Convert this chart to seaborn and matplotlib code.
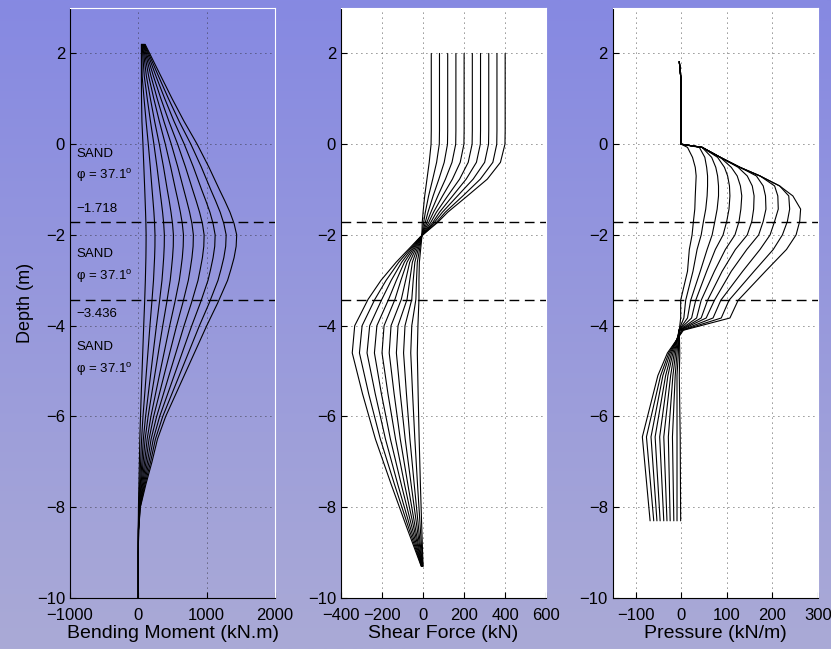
import numpy as np
import pandas as pd
import matplotlib
matplotlib.use("Agg")
import matplotlib.pyplot as plt
import seaborn as sns

# soil layer boundaries (m)
layer_bounds = [-1.718, -3.436]
layer_names = ["SAND", "SAND", "SAND"]
layer_phi = [37.1, 37.1, 37.1]

# Bending moment (kN.m), one list per load step, on bm_depth
bm_depth = [2.2, 1.5, 1.0, 0.5, 0.0, -0.5, -1.0, -1.25, -1.5, -1.75, -2.0, -2.25, -2.5, -2.75,
            -3.0, -3.5, -4.0, -4.5, -5.0, -5.5, -6.0, -6.5, -7.0, -7.5, -8.0, -8.5, -9.0, -10.0]
bm_curves = [
    [45, 45, 47, 53, 68, 81, 94, 100, 106, 111, 114, 113, 111, 107, 103, 92, 79, 67, 55, 43, 32, 22, 16, 9, 2, 0, 0, 0],
    [50, 56, 84, 114, 146, 175, 201, 215, 228, 238, 244, 243, 238, 230, 222, 197, 170, 145, 119, 94, 68, 48, 34, 19, 5, 1, 0, 0],
    [55, 87, 131, 178, 228, 273, 314, 335, 355, 371, 381, 379, 371, 359, 346, 307, 265, 225, 186, 146, 106, 74, 53, 29, 8, 1, 0, 0],
    [62, 118, 177, 239, 307, 368, 423, 452, 478, 500, 513, 511, 500, 484, 466, 414, 357, 303, 250, 196, 143, 100, 71, 39, 11, 2, 0, 0],
    [68, 151, 227, 308, 395, 473, 544, 581, 615, 643, 660, 656, 643, 622, 599, 532, 459, 390, 321, 252, 184, 129, 92, 50, 14, 2, 0, 0],
    [75, 185, 277, 375, 482, 577, 664, 708, 750, 784, 805, 801, 784, 759, 731, 650, 560, 476, 392, 308, 224, 157, 112, 62, 17, 3, 0, 0],
    [80, 221, 331, 448, 575, 689, 793, 846, 896, 937, 962, 957, 937, 906, 873, 776, 669, 569, 468, 368, 268, 187, 134, 74, 20, 3, 0, 0],
    [87, 258, 387, 523, 672, 804, 925, 988, 1047, 1093, 1123, 1117, 1093, 1058, 1019, 906, 781, 664, 547, 430, 312, 219, 156, 86, 23, 4, 0, 0],
    [93, 295, 442, 598, 768, 920, 1058, 1130, 1197, 1250, 1284, 1277, 1250, 1210, 1165, 1036, 893, 759, 625, 491, 357, 250, 179, 98, 27, 4, 0, 0],
    [100, 330, 495, 670, 860, 1030, 1185, 1265, 1340, 1400, 1438, 1430, 1400, 1355, 1305, 1160, 1000, 850, 700, 550, 400, 280, 200, 110, 30, 5, 0, 0],
]

# Shear force (kN)
sf_depth = [2.0, 0.3, 0.0, -0.4, -0.77, -1.14, -1.5, -1.72, -2.05, -2.6, -3.0, -3.42,
            -4.0, -4.6, -5.5, -6.5, -7.5, -8.5, -9.3]
sf_curves = [
    [40, 40, 39, 30, 19, 8, 0, -4, -6, -18, -20, -20, -25, -28, -24, -19, -13, -6, 0],
    [80, 80, 79, 66, 47, 27, 11, 3, -7, -28, -32, -35, -55, -60, -51, -40, -27, -13, -1],
    [120, 120, 119, 103, 77, 49, 24, 11, -8, -40, -48, -55, -88, -95, -81, -64, -43, -21, -2],
    [160, 160, 159, 141, 109, 72, 38, 19, -9, -52, -65, -78, -122, -130, -111, -87, -58, -28, -3],
    [200, 200, 199, 181, 143, 95, 51, 28, -10, -65, -85, -106, -156, -165, -141, -111, -74, -36, -4],
    [240, 240, 239, 220, 178, 120, 65, 38, -11, -78, -108, -137, -190, -200, -171, -134, -90, -43, -5],
    [280, 280, 279, 260, 210, 144, 80, 48, -12, -91, -130, -168, -225, -237, -203, -159, -106, -51, -6],
    [320, 320, 319, 300, 244, 168, 94, 56, -13, -104, -155, -201, -260, -273, -233, -183, -123, -59, -7],
    [360, 360, 359, 340, 279, 194, 108, 66, -14, -118, -180, -235, -297, -310, -265, -208, -139, -67, -8],
    [400, 400, 399, 377, 313, 216, 120, 72, -15, -131, -205, -268, -333, -345, -295, -232, -155, -75, -9],
]

# Soil pressure (kN/m)
pr_depth = [1.82, 1.4, 0.0, -0.07, -0.29, -0.51, -0.70, -0.92, -1.14, -1.43, -1.7, -2.0,
            -2.32, -2.8, -3.44, -3.83, -4.1, -4.6, -5.1, -6.45, -8.3]
pr_curves = [
    [-4, 0, 0, 14, 25, 31, 33, 32, 31, 30, 27, 24, 18, 14, -1, -1, -4, -3, -4, -2, -1],
    [-4, 0, 0, 40, 52, 56, 58, 58, 57, 54, 49, 44, 35, 26, 10, 6, -5, -6, -9, -9, -9],
    [-4, 0, 0, 46, 67, 76, 80, 82, 82, 79, 74, 68, 57, 42, 21, 14, -5, -9, -13, -19, -16],
    [-4, 0, 0, 46, 80, 95, 102, 106, 107, 105, 100, 92, 75, 56, 32, 23, -5, -12, -18, -28, -24],
    [-4, 0, 0, 46, 86, 110, 123, 130, 133, 131, 127, 118, 97, 73, 44, 34, -4, -15, -23, -38, -31],
    [-4, 0, 0, 46, 86, 125, 145, 156, 160, 159, 155, 145, 119, 90, 58, 44, -3, -18, -29, -47, -38],
    [-4, 0, 0, 46, 86, 129, 165, 180, 185, 186, 180, 170, 144, 110, 73, 55, -2, -21, -34, -57, -46],
    [-4, 0, 0, 46, 86, 129, 173, 205, 212, 213, 205, 195, 173, 135, 87, 70, 1, -24, -40, -66, -53],
    [-4, 0, 0, 46, 86, 129, 173, 216, 236, 238, 233, 222, 202, 160, 105, 88, 3, -27, -45, -76, -60],
    [-4, 0, 0, 46, 86, 129, 173, 216, 245, 262, 260, 252, 231, 185, 125, 107, 5, -30, -51, -85, -68],
]


def to_frame(depths, curves):
    rows = []
    for k, vals in enumerate(curves):
        for d, v in zip(depths, vals):
            rows.append((k, d, v))
    return pd.DataFrame(rows, columns=["curve", "depth", "value"])


sns.set_style("ticks")
plt.rcParams["font.family"] = ["Liberation Sans", "DejaVu Sans"]
plt.rcParams["mathtext.fontset"] = "custom"
plt.rcParams["mathtext.rm"] = "Liberation Sans"
plt.rcParams["text.color"] = "k"
plt.rcParams["axes.labelcolor"] = "k"

fig = plt.figure(figsize=(8.31, 6.49), dpi=100)

# gradient figure background
bg = fig.add_axes([0, 0, 1, 1], zorder=-10)
top_c = np.array([134, 137, 226]) / 255
bot_c = np.array([170, 170, 214]) / 255
t = np.linspace(0, 1, 256)[:, None]
grad = (top_c * (1 - t) + bot_c * t)[:, None, :]
bg.imshow(grad, aspect="auto", extent=[0, 1, 0, 1])
bg.axis("off")

panels = [
    (0.0841, bm_depth, bm_curves, (-1000, 2000), [-1000, 0, 1000, 2000], "Bending Moment (kN.m)"),
    (0.4103, sf_depth, sf_curves, (-400, 600), [-400, -200, 0, 200, 400, 600], "Shear Force (kN)"),
    (0.7373, pr_depth, pr_curves, (-150, 300), [-100, 0, 100, 200, 300], "Pressure (kN/m)"),
]

axes = []
for i, (left, depth, curves, xlim, xticks, xlabel) in enumerate(panels):
    ax = fig.add_axes([left, 0.0786, 0.247, 0.909])
    if i == 0:
        ax.set_facecolor("none")
    else:
        ax.set_facecolor("white")
    df = to_frame(depth, curves)
    sns.lineplot(data=df, x="value", y="depth", units="curve", estimator=None,
                 sort=False, color="k", lw=0.8, ax=ax, legend=False)
    for yb in layer_bounds:
        ax.axhline(yb, color="k", lw=1.0, ls=(0, (7, 4)), zorder=3)
    ax.set_xlim(*xlim)
    ax.set_ylim(-10, 3)
    ax.set_xticks(xticks)
    ax.set_yticks([-10, -8, -6, -4, -2, 0, 2])
    ax.grid(True, color="#222222", ls=(0, (1, 5)), lw=0.6)
    ax.set_axisbelow(True)
    ax.tick_params(direction="in", length=4, width=0.8, labelsize=12, colors="k")
    ax.tick_params(axis="x", pad=7)
    for s in ["left", "bottom"]:
        ax.spines[s].set_color("k")
        ax.spines[s].set_linewidth(0.8)
    for s in ["top", "right"]:
        ax.spines[s].set_color("white")
        ax.spines[s].set_linewidth(0.8)
    ax.set_xlabel(xlabel, fontsize=14, labelpad=2)
    ax.set_ylabel("")
    axes.append(ax)

axes[0].set_ylabel("Depth (m)", fontsize=13, labelpad=2)

# soil layer annotations
txt_x = -910
name_y = [-0.21, -2.43, -4.46]
phi_y = [-0.70, -2.91, -4.97]
for k in range(3):
    axes[0].text(txt_x, name_y[k], layer_names[k], fontsize=9.5, ha="left", va="center")
    axes[0].text(txt_x, phi_y[k], "\u03c6 = %.1f$^{\\mathrm{o}}$" % layer_phi[k],
                 fontsize=9.5, ha="left", va="center")
bound_y = [-1.42, -3.75]
for k in range(2):
    axes[0].text(txt_x, bound_y[k], "\u2212%.3f" % abs(layer_bounds[k]),
                 fontsize=9.5, ha="left", va="center")

fig.savefig("out.png", dpi=100)
